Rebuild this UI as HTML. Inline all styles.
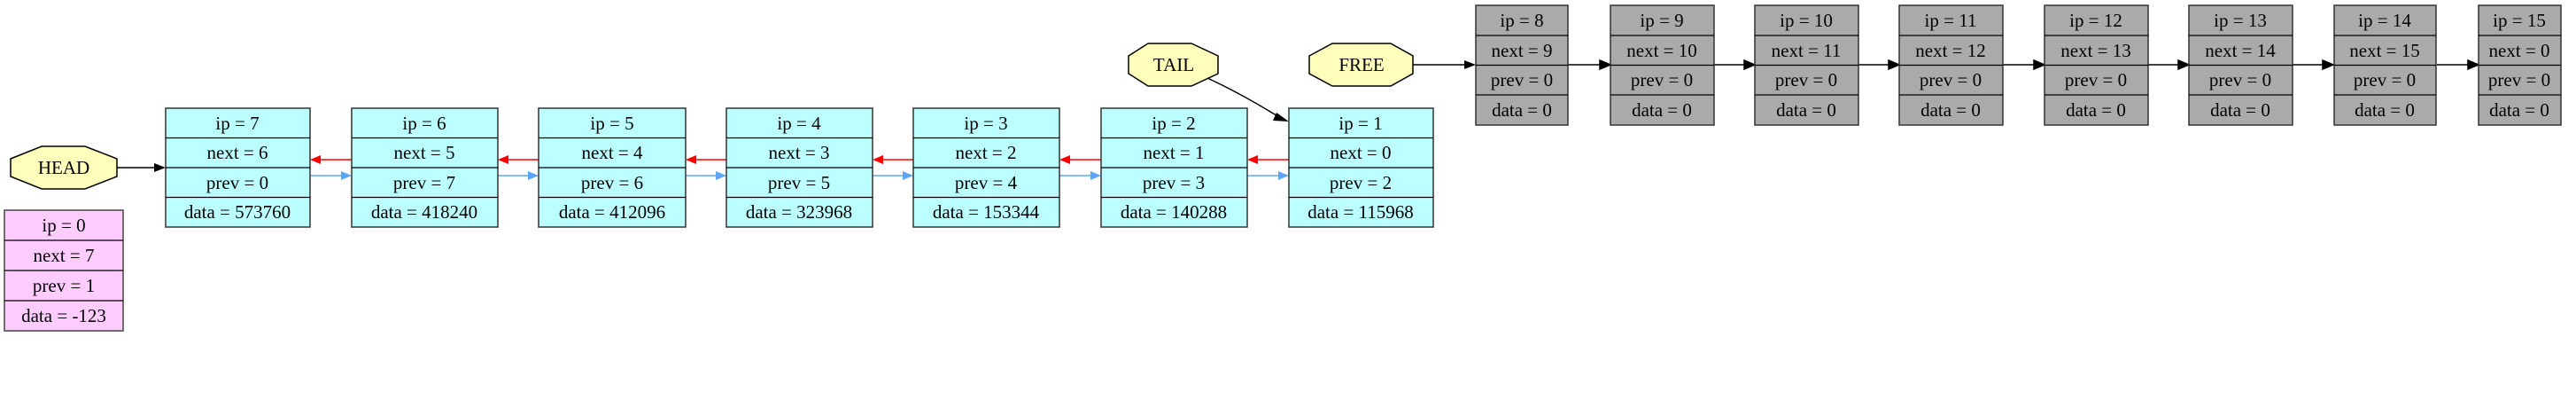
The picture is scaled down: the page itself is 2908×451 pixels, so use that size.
<!DOCTYPE html>
<html><head><meta charset="utf-8"><style>
html,body{margin:0;padding:0;background:#fff;}
svg{display:block;}
text{font-family:"Liberation Serif",serif;font-size:21px;fill:#000;text-anchor:middle;}
</style></head><body>
<svg width="2908" height="451" viewBox="0 0 2908 451" xmlns="http://www.w3.org/2000/svg">
<defs>
<marker id="ab" markerWidth="10" markerHeight="8" refX="10" refY="4" orient="auto" markerUnits="userSpaceOnUse"><path d="M0,0 L10,4 L0,8 z" fill="#000"/></marker>
</defs>
<g stroke="#000" stroke-width="1.5">
<!-- HEAD -->
<polygon points="12,179 47,165 96,165 132,179 132,199 96,213 47,213 12,199" fill="#ffffbb"/>
<polygon points="1274,63 1296,49 1345,49 1375,63 1375,83 1345,97 1296,97 1274,83" fill="#ffffbb"/>
<polygon points="1478,63 1504,49 1570,49 1595,63 1595,83 1570,97 1504,97 1478,83" fill="#ffffbb"/>
</g>
<text x="72" y="196">HEAD</text>
<text x="1325" y="80">TAIL</text>
<text x="1537" y="80">FREE</text>
<!-- arrows -->
<g stroke-width="1.5" fill="none">
<line x1="132" y1="189" x2="174" y2="189" stroke="#000"/>
<polygon points="174,184 187,189 174,194" fill="#000"/>
<line x1="1595" y1="73" x2="1653" y2="73" stroke="#000"/>
<polygon points="1653,68 1666,73 1653,78" fill="#000"/>
<path d="M1363,88 Q1400,105 1444,132" stroke="#000"/>
<polygon points="1441,127 1455,137 1437,136" fill="#000"/>
</g>
<g id="grayarrows" stroke="#000" stroke-width="1.5">
<line x1="1770" y1="73" x2="1806" y2="73"/><polygon points="1806,68 1818,73 1806,78"/>
<line x1="1935" y1="73" x2="1969" y2="73"/><polygon points="1969,68 1981,73 1969,78"/>
<line x1="2098" y1="73" x2="2132" y2="73"/><polygon points="2132,68 2144,73 2132,78"/>
<line x1="2261" y1="73" x2="2296" y2="73"/><polygon points="2296,68 2308,73 2296,78"/>
<line x1="2425" y1="73" x2="2459" y2="73"/><polygon points="2459,68 2471,73 2459,78"/>
<line x1="2588" y1="73" x2="2622" y2="73"/><polygon points="2622,68 2634,73 2622,78"/>
<line x1="2751" y1="73" x2="2786" y2="73"/><polygon points="2786,68 2798,73 2786,78"/>
</g>
<g stroke-width="1.5">
<!-- red next arrows (leftward) and blue prev arrows (rightward) -->
<line x1="397" y1="180" x2="362" y2="180" stroke="#f00"/><polygon points="362,175 350,180 362,185" fill="#f00"/>
<line x1="350" y1="198" x2="385" y2="198" stroke="#5aa5ff"/><polygon points="385,193 397,198 385,203" fill="#5aa5ff"/>
<line x1="608" y1="180" x2="574" y2="180" stroke="#f00"/><polygon points="574,175 562,180 574,185" fill="#f00"/>
<line x1="562" y1="198" x2="596" y2="198" stroke="#5aa5ff"/><polygon points="596,193 608,198 596,203" fill="#5aa5ff"/>
<line x1="820" y1="180" x2="786" y2="180" stroke="#f00"/><polygon points="786,175 774,180 786,185" fill="#f00"/>
<line x1="774" y1="198" x2="808" y2="198" stroke="#5aa5ff"/><polygon points="808,193 820,198 808,203" fill="#5aa5ff"/>
<line x1="1031" y1="180" x2="997" y2="180" stroke="#f00"/><polygon points="997,175 985,180 997,185" fill="#f00"/>
<line x1="985" y1="198" x2="1019" y2="198" stroke="#5aa5ff"/><polygon points="1019,193 1031,198 1019,203" fill="#5aa5ff"/>
<line x1="1243" y1="180" x2="1208" y2="180" stroke="#f00"/><polygon points="1208,175 1196,180 1208,185" fill="#f00"/>
<line x1="1196" y1="198" x2="1231" y2="198" stroke="#5aa5ff"/><polygon points="1231,193 1243,198 1231,203" fill="#5aa5ff"/>
<line x1="1455" y1="180" x2="1420" y2="180" stroke="#f00"/><polygon points="1420,175 1408,180 1420,185" fill="#f00"/>
<line x1="1408" y1="198" x2="1443" y2="198" stroke="#5aa5ff"/><polygon points="1443,193 1455,198 1443,203" fill="#5aa5ff"/>
</g>

<!-- cyan nodes -->
<g stroke="#333" stroke-width="1.5" fill="#bbffff">
<rect x="187" y="122" width="163" height="134"/><rect x="397" y="122" width="165" height="134"/>
<rect x="608" y="122" width="166" height="134"/><rect x="820" y="122" width="165" height="134"/>
<rect x="1031" y="122" width="165" height="134"/><rect x="1243" y="122" width="165" height="134"/>
<rect x="1455" y="122" width="163" height="134"/>
</g>
<g stroke="#000" stroke-width="1.3">
<path d="M187,155.5H350M187,189H350M187,222.5H350M397,155.5H562M397,189H562M397,222.5H562M608,155.5H774M608,189H774M608,222.5H774M820,155.5H985M820,189H985M820,222.5H985M1031,155.5H1196M1031,189H1196M1031,222.5H1196M1243,155.5H1408M1243,189H1408M1243,222.5H1408M1455,155.5H1618M1455,189H1618M1455,222.5H1618"/>
</g>
<text x="268" y="146">ip = 7</text><text x="268" y="179">next = 6</text><text x="268" y="213">prev = 0</text><text x="268" y="246">data = 573760</text>
<text x="479" y="146">ip = 6</text><text x="479" y="179">next = 5</text><text x="479" y="213">prev = 7</text><text x="479" y="246">data = 418240</text>
<text x="691" y="146">ip = 5</text><text x="691" y="179">next = 4</text><text x="691" y="213">prev = 6</text><text x="691" y="246">data = 412096</text>
<text x="902" y="146">ip = 4</text><text x="902" y="179">next = 3</text><text x="902" y="213">prev = 5</text><text x="902" y="246">data = 323968</text>
<text x="1113" y="146">ip = 3</text><text x="1113" y="179">next = 2</text><text x="1113" y="213">prev = 4</text><text x="1113" y="246">data = 153344</text>
<text x="1325" y="146">ip = 2</text><text x="1325" y="179">next = 1</text><text x="1325" y="213">prev = 3</text><text x="1325" y="246">data = 140288</text>
<text x="1536" y="146">ip = 1</text><text x="1536" y="179">next = 0</text><text x="1536" y="213">prev = 2</text><text x="1536" y="246">data = 115968</text>

<!-- pink node -->
<rect x="5" y="237" width="134" height="136" fill="#ffccff" stroke="#444" stroke-width="1.5"/>
<path d="M5,271H139M5,305H139M5,339H139" stroke="#000" stroke-width="1.3"/>
<text x="72" y="261">ip = 0</text><text x="72" y="295">next = 7</text><text x="72" y="329">prev = 1</text><text x="72" y="363">data = -123</text>

<!-- gray nodes -->
<g stroke="#333" stroke-width="1.5" fill="#aaaaaa">
<rect x="1666" y="6" width="104" height="135"/><rect x="1818" y="6" width="117" height="135"/>
<rect x="1981" y="6" width="117" height="135"/><rect x="2144" y="6" width="117" height="135"/>
<rect x="2308" y="6" width="117" height="135"/><rect x="2471" y="6" width="117" height="135"/>
<rect x="2635" y="6" width="115" height="135"/><rect x="2798" y="6" width="93" height="135"/>
</g>
<path stroke="#000" stroke-width="1.3" d="M1666,40H1770M1666,73.5H1770M1666,107H1770M1818,40H1935M1818,73.5H1935M1818,107H1935M1981,40H2098M1981,73.5H2098M1981,107H2098M2144,40H2261M2144,73.5H2261M2144,107H2261M2308,40H2425M2308,73.5H2425M2308,107H2425M2471,40H2588M2471,73.5H2588M2471,107H2588M2635,40H2750M2635,73.5H2750M2635,107H2750M2798,40H2891M2798,73.5H2891M2798,107H2891"/>
<text x="1718" y="30">ip = 8</text><text x="1718" y="64">next = 9</text><text x="1718" y="97">prev = 0</text><text x="1718" y="131">data = 0</text>
<text x="1876" y="30">ip = 9</text><text x="1876" y="64">next = 10</text><text x="1876" y="97">prev = 0</text><text x="1876" y="131">data = 0</text>
<text x="2039" y="30">ip = 10</text><text x="2039" y="64">next = 11</text><text x="2039" y="97">prev = 0</text><text x="2039" y="131">data = 0</text>
<text x="2202" y="30">ip = 11</text><text x="2202" y="64">next = 12</text><text x="2202" y="97">prev = 0</text><text x="2202" y="131">data = 0</text>
<text x="2366" y="30">ip = 12</text><text x="2366" y="64">next = 13</text><text x="2366" y="97">prev = 0</text><text x="2366" y="131">data = 0</text>
<text x="2529" y="30">ip = 13</text><text x="2529" y="64">next = 14</text><text x="2529" y="97">prev = 0</text><text x="2529" y="131">data = 0</text>
<text x="2692" y="30">ip = 14</text><text x="2692" y="64">next = 15</text><text x="2692" y="97">prev = 0</text><text x="2692" y="131">data = 0</text>
<text x="2844" y="30">ip = 15</text><text x="2844" y="64">next = 0</text><text x="2844" y="97">prev = 0</text><text x="2844" y="131">data = 0</text>
</svg>
</body></html>
